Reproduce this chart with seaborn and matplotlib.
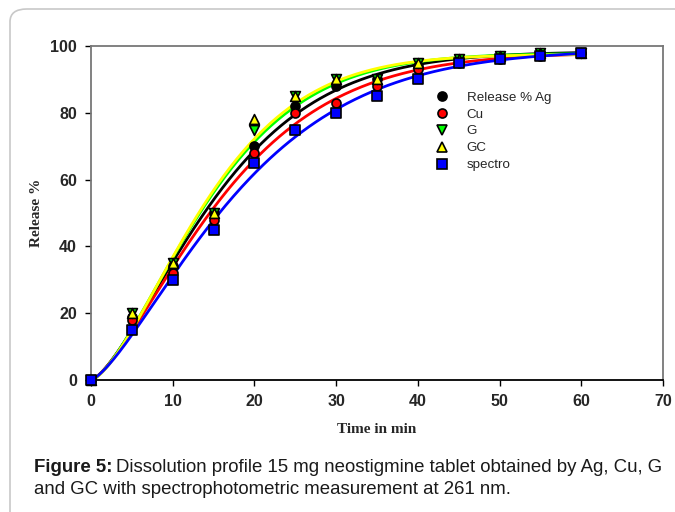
import numpy as np
import pandas as pd
import seaborn as sns
import matplotlib.pyplot as plt
from matplotlib.lines import Line2D
from matplotlib.patches import FancyBboxPatch

# release data
time = [0, 5, 10, 15, 20, 25, 30, 35, 40, 45, 50, 55, 60]
ag = [0, 19, 34, 50, 70, 82, 88, 90, 94, 96, 97, 98, 98]
cu = [0, 18, 32, 48, 68, 80, 83, 88, 93, 95, 96, 97, 98]
g = [0, 20, 35, 50, 75, 85, 90, 90, 95, 96, 97, 98, 98]
gc = [0, 20, 35, 50, 78, 85, 90, 90, 95, 96, 97, 98, 98]
spectro = [0, 15, 30, 45, 65, 75, 80, 85, 90, 95, 96, 97, 98]

names = ['Release % Ag', 'Cu', 'G', 'GC', 'spectro']
colors = ['black', 'red', '#00ff00', 'yellow', 'blue']
markers = ['o', 'o', 'v', '^', 's']
sizes = [42, 42, 50, 50, 48]
series = [ag, cu, g, gc, spectro]


def weibull_fit(t, y):
    # grid search weibull, fmax solved in closed form
    t = np.asarray(t, float)
    y = np.asarray(y, float)
    a = np.arange(8, 35, 0.1)[:, None, None]
    b = np.arange(0.8, 2.5, 0.01)[None, :, None]
    gg = 1 - np.exp(-(t[None, None, :] / a) ** b)
    fmax = (gg * y).sum(-1) / (gg * gg).sum(-1)
    err = ((fmax[..., None] * gg - y) ** 2).sum(-1)
    i, j = np.unravel_index(np.argmin(err), err.shape)
    return a[i, 0, 0], b[0, j, 0], fmax[i, j]


sns.set_style('ticks')
plt.rcParams['font.family'] = ['Liberation Sans', 'DejaVu Sans']

fig = plt.figure(figsize=(6.75, 5.12), dpi=100)
ax = fig.add_axes([91 / 675, 1 - 380 / 512, (663 - 91) / 675, (380 - 46) / 512])

tt = np.linspace(0, 60, 300)
for name, y, c in zip(names, series, colors):
    a, b, fm = weibull_fit(time, y)
    fit = pd.DataFrame({'t': tt, 'r': fm * (1 - np.exp(-(tt / a) ** b))})
    sns.lineplot(data=fit, x='t', y='r', color=c, lw=2, ax=ax, zorder=2)

for name, y, c, m, s in zip(names, series, colors, markers, sizes):
    df = pd.DataFrame({'t': time, 'r': y})
    sns.scatterplot(data=df, x='t', y='r', color=c, marker=m, s=s,
                    edgecolor='black', linewidth=1.2, ax=ax, zorder=3, clip_on=False)

ax.set_xlim(0, 70)
ax.set_ylim(0, 100)
ax.set_xticks(range(0, 71, 10))
ax.set_yticks(range(0, 101, 20))
for lab in ax.get_xticklabels() + ax.get_yticklabels():
    lab.set_fontweight('bold')
    lab.set_fontsize(11.5)
ax.tick_params(direction='out', length=4, width=1, color='black', pad=6)
for sp in ['top', 'right', 'left']:
    ax.spines[sp].set_color('#777777')
    ax.spines[sp].set_linewidth(1.3)
ax.spines['bottom'].set_color('black')
ax.spines['bottom'].set_linewidth(1.3)

ax.set_xlabel('Time in min', family='Liberation Serif', fontweight='bold', fontsize=11, labelpad=10)
ax.set_ylabel('Release %', family='Liberation Serif', fontweight='bold', fontsize=11, labelpad=5)

handles = [Line2D([], [], ls='none', marker=m, color=c, markeredgecolor='black',
                  markersize=6.5, markeredgewidth=1.2) for c, m in zip(colors, markers)]
ax.legend(handles, names, loc='upper left', bbox_to_anchor=(0.575, 0.9), frameon=False,
          fontsize=9.6, handletextpad=1.1, labelspacing=0.34, handlelength=1.5)

# rounded frame around the figure, open on the right and bottom
frame = FancyBboxPatch((10 / 675, -0.1), 1.2, 1 - 9 / 512 + 0.1,
                       boxstyle='round,pad=0,rounding_size=0.025',
                       transform=fig.transFigure, fill=False, ec='#c8c8c8', lw=1.2)
fig.patches.append(frame)

fig.canvas.draw()
r = fig.canvas.get_renderer()
t1 = fig.text(34 / 675, 1 - 467 / 512, 'Figure 5:', fontsize=13.4, fontweight='bold',
              va='center', color='#1a1a1a')
bb = t1.get_window_extent(r)
fig.text(bb.x1 / 675 + 4 / 675, 1 - 467 / 512,
         'Dissolution profile 15 mg neostigmine tablet obtained by Ag, Cu, G',
         fontsize=13.4, va='center', color='#1a1a1a')
fig.text(34 / 675, 1 - 489 / 512, 'and GC with spectrophotometric measurement at 261 nm.',
         fontsize=13.4, va='center', color='#1a1a1a')

fig.savefig('out.png', dpi=100)
